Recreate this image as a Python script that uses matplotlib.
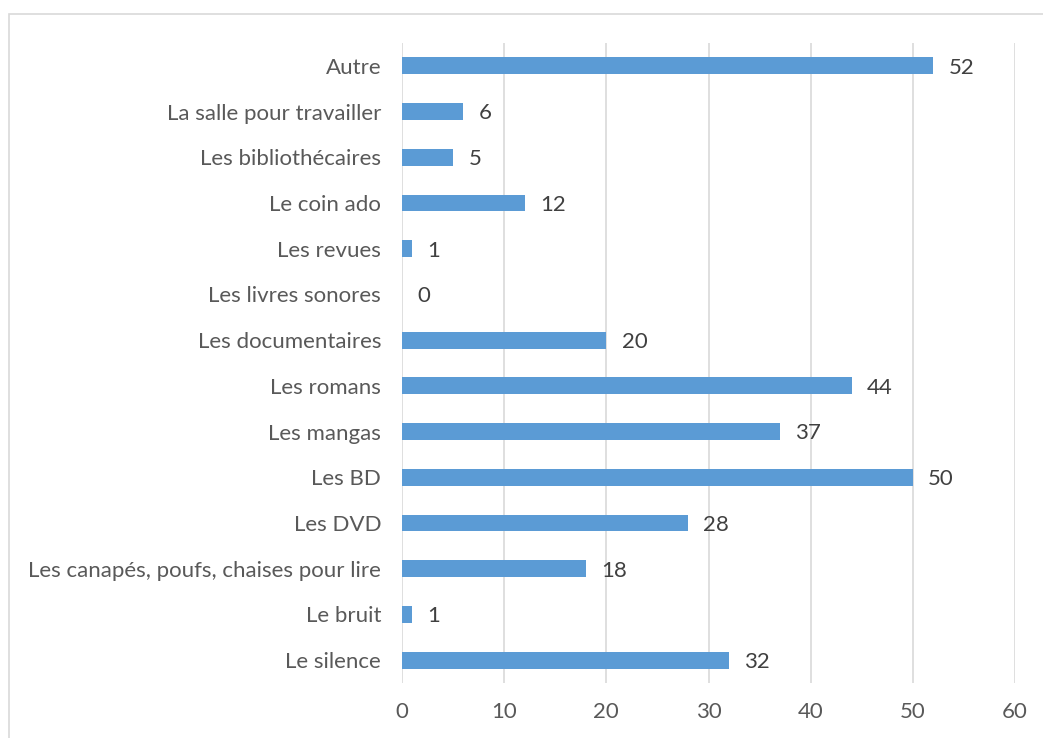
import matplotlib
import matplotlib.pyplot as plt
from matplotlib.patches import Rectangle

matplotlib.use("Agg")

# données (de bas en haut)
categories = [
    "Le silence",
    "Le bruit",
    "Les canapés, poufs, chaises pour lire",
    "Les DVD",
    "Les BD",
    "Les mangas",
    "Les romans",
    "Les documentaires",
    "Les livres sonores",
    "Les revues",
    "Le coin ado",
    "Les bibliothécaires",
    "La salle pour travailler",
    "Autre",
]
values = [32, 1, 18, 28, 50, 37, 44, 20, 0, 1, 12, 5, 6, 52]
xticks = [0, 10, 20, 30, 40, 50, 60]

plt.rcParams["font.family"] = ["Lato", "DejaVu Sans"]

fig = plt.figure(figsize=(10.43, 7.38), dpi=100)
ax = fig.add_axes([0.3854, 0.0745, 0.5878, 0.8672])

# cadre du graphique
fig.patches.append(
    Rectangle((9 / 1043, -0.1), 1.2, 1 - 14 / 738 + 0.1,
              transform=fig.transFigure, fill=False,
              edgecolor="#d9d9d9", linewidth=1.2)
)

pos = list(range(len(categories)))
ax.barh(pos, values, height=0.37, color="#5b9bd5", zorder=3)

for p, v in zip(pos, values):
    ax.text(v + 1.5, p - 0.04, str(v), va="center", ha="left",
            fontsize=16, color="#404040")

ax.set_xlim(0, 60)
ax.set_ylim(-0.5, len(categories) - 0.5)
ax.set_xticks(xticks)
ax.set_yticks(pos)
ax.set_yticklabels(categories)
ax.tick_params(axis="both", length=0, labelsize=16, labelcolor="#595959")
ax.tick_params(axis="y", pad=15)
ax.tick_params(axis="x", pad=14)
ax.grid(axis="x", color="#d9d9d9", linewidth=1.2, zorder=0)
for s in ax.spines.values():
    s.set_visible(False)

fig.savefig("out.png", dpi=100)
